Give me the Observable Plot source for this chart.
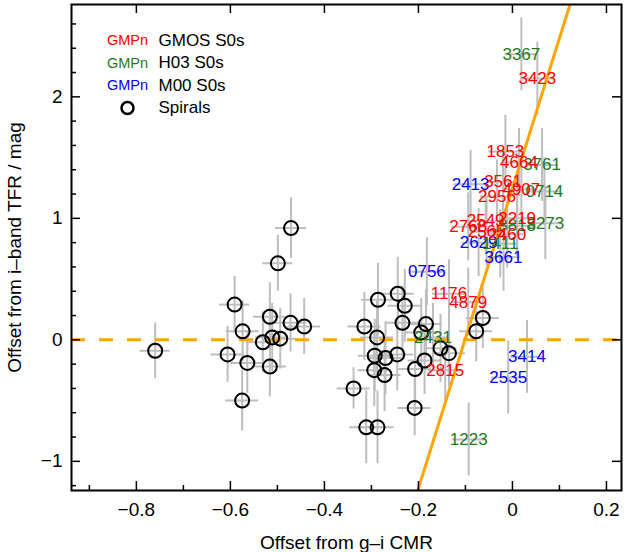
<!DOCTYPE html>
<html><head><meta charset="utf-8">
<script src="https://cdn.jsdelivr.net/npm/d3@7"></script>
<script src="https://cdn.jsdelivr.net/npm/@observablehq/plot@0.6"></script>
<style>body{margin:0;background:#fff}</style>
</head><body><div id="chart"></div>
<script>
// Spirals
const spiralX = [-0.760,-0.471,-0.499,-0.591,-0.574,-0.516,-0.472,-0.443,-0.531,-0.511,-0.494,-0.606,-0.564,-0.516,-0.575,
  -0.315,-0.286,-0.244,-0.229,-0.234,-0.184,-0.288,-0.194,-0.293,-0.270,-0.245,-0.294,-0.272,-0.207,-0.187,-0.153,-0.135,-0.338,-0.208,-0.311,-0.287,-0.063,-0.077];
const spiralY = [-0.09,0.92,0.63,0.29,0.07,0.19,0.14,0.11,-0.02,0.02,0.01,-0.12,-0.19,-0.22,-0.50,
  0.11,0.33,0.38,0.28,0.14,0.13,0.02,0.06,-0.13,-0.15,-0.12,-0.25,-0.29,-0.24,-0.17,-0.07,-0.11,-0.40,-0.56,-0.72,-0.72,0.18,0.07];
const spiralXErr = [0.032,0.033,0.032,0.032,0.035,0.035,0.035,0.035,0.035,0.035,0.035,0.035,0.035,0.035,0.035,
  0.035,0.035,0.035,0.035,0.035,0.035,0.035,0.035,0.035,0.035,0.035,0.035,0.035,0.035,0.035,0.035,0.035,0.035,0.035,0.035,0.035,0.035,0.035];
const spiralYErr = [0.23,0.25,0.23,0.23,0.25,0.28,0.24,0.23,0.25,0.28,0.25,0.23,0.25,0.25,0.25,
  0.28,0.30,0.30,0.30,0.30,0.28,0.30,0.28,0.30,0.30,0.30,0.30,0.30,0.30,0.28,0.28,0.28,0.17,0.23,0.30,0.30,0.25,0.25];

// GMOS S0s (red)
const gmosNames = ["3423","1853","4664","3561","4907","2956","2219","2549","2768","2565","2460","1176","4879","2815"];
const gmosX = [0.053,-0.015,0.014,-0.020,0.019,-0.033,0.010,-0.057,-0.094,-0.055,-0.011,-0.135,-0.094,-0.143];
const gmosY = [2.15,1.55,1.46,1.30,1.24,1.18,1.00,0.98,0.93,0.89,0.87,0.38,0.31,-0.25];
const gmosYErr = [0.30,0.30,0.28,0.28,0.28,0.30,0.28,0.28,0.28,0.28,0.28,0.28,0.28,0.25];
// H03 S0s (green)
const h03Names = ["3367","3761","0714","3818","3273","1411","2431","1223"];
const h03X = [0.019,0.063,0.068,0.010,0.070,-0.026,-0.169,-0.093];
const h03Y = [2.35,1.44,1.22,0.94,0.96,0.79,0.02,-0.82];
const h03YErr = [0.30,0.30,0.28,0.28,0.30,0.28,0.28,0.30];
// M00 S0s (blue)
const m00Names = ["2413","2629","3661","0756","3414","2535"];
const m00X = [-0.089,-0.072,-0.019,-0.182,0.031,-0.009];
const m00Y = [1.28,0.80,0.68,0.56,-0.14,-0.31];
const m00YErr = [0.28,0.28,0.28,0.28,0.30,0.30];
const s0XErr = 0.035;

// Fit line (orange): y = slope * (x - x0)
const fitSlope = 12.35, fitX0 = -0.101;
const fitEndsX = [-0.25, 0.16];

const xDomain = [-0.938, 0.232];
const yDomain = [-1.24, 2.76];
const majorX = [-0.8,-0.6,-0.4,-0.2,0,0.2];
const minorX = [-0.9,-0.7,-0.5,-0.3,-0.1,0.1];
const majorY = [-1,0,1,2];
const minorY = [-1.2,-0.8,-0.6,-0.4,-0.2,0.2,0.4,0.6,0.8,1.2,1.4,1.6,1.8,2.2,2.4,2.6];

const legendRows = [
  {tag:"GMPn", color:"#ff0000", label:"GMOS S0s"},
  {tag:"GMPn", color:"#1f7a1f", label:"H03 S0s"},
  {tag:"GMPn", color:"#0000ff", label:"M00 S0s"},
  {tag:null, color:null, label:"Spirals"}
];

const spirals = spiralX.map((x,i)=>({x, y:spiralY[i], xe:spiralXErr[i], ye:spiralYErr[i]}));
const mk = (names, xs, ys, yes) => names.map((n,i)=>({name:n, x:xs[i], y:ys[i], xe:s0XErr, ye:yes[i]}));
const gmos = mk(gmosNames, gmosX, gmosY, gmosYErr);
const h03 = mk(h03Names, h03X, h03Y, h03YErr);
const m00 = mk(m00Names, m00X, m00Y, m00YErr);
const allErr = [...spirals, ...gmos, ...h03, ...m00];
const fit = fitEndsX.map(x => ({x, y: fitSlope*(x - fitX0)}));

const W = 626, H = 552, mL = 71, mR = 5, mT = 4, mB = 62;
const FW = W - mL - mR, FH = H - mT - mB;
const fmtX = d => d === 0 ? "0" : d.toFixed(1).replace("-", "\u2212");
const fmtY = d => String(d).replace("-", "\u2212");
const grey = "#bebebe";
const rowStep = 22.5, rowTop = 36;

const plot = Plot.plot({
  width: W, height: H,
  marginLeft: mL, marginRight: mR, marginTop: mT, marginBottom: mB,
  style: {fontFamily: "'Liberation Sans', Arial, Helvetica, sans-serif", fontSize: "19px", background: "#fff", color: "#000"},
  x: {domain: xDomain},
  y: {domain: yDomain},
  marks: [
    Plot.ruleY(allErr, {y: "y", x1: d => d.x - d.xe, x2: d => d.x + d.xe, stroke: grey, strokeWidth: 2}),
    Plot.ruleX(allErr, {x: "x", y1: d => d.y - d.ye, y2: d => d.y + d.ye, stroke: grey, strokeWidth: 2}),
    Plot.ruleY([0], {stroke: "#ffa500", strokeWidth: 3, strokeDasharray: "14,14"}),
    Plot.line(fit, {x: "x", y: "y", stroke: "#ffa500", strokeWidth: 3, clip: true}),
    Plot.dot(spirals, {x: "x", y: "y", r: 7, stroke: "black", strokeWidth: 2, fill: "none"}),
    Plot.text(m00, {x: "x", y: "y", text: "name", fill: "#0000ff", fontSize: 17}),
    Plot.text(h03, {x: "x", y: "y", text: "name", fill: "#1f7a1f", fontSize: 17}),
    Plot.text(gmos, {x: "x", y: "y", text: "name", fill: "#ff0000", fontSize: 17}),
    // legend
    ...legendRows.map((r, i) => Plot.text([r], {text: "label", frameAnchor: "top-left", dx: 87, dy: rowTop + i * rowStep, fontSize: 17, textAnchor: "start", lineAnchor: "middle", fill: "black"})),
    ...legendRows.filter(r => r.tag).map((r, i) => Plot.text([r], {text: "tag", frameAnchor: "top-left", dx: 56, dy: rowTop + i * rowStep, fontSize: 14.5, textAnchor: "middle", lineAnchor: "middle", fill: r.color})),
    Plot.dot([legendRows[3]], {frameAnchor: "top-left", dx: 56, dy: rowTop + 3 * rowStep, r: 6, stroke: "black", strokeWidth: 2.5, fill: "none"}),
    // ticks (inward)
    Plot.tickX(majorX, {x: d => d, insetTop: FH - 9, stroke: "black", strokeWidth: 1.5}),
    Plot.tickX(minorX, {x: d => d, insetTop: FH - 5, stroke: "black", strokeWidth: 1.5}),
    Plot.tickX(majorX, {x: d => d, insetBottom: FH - 9, stroke: "black", strokeWidth: 1.5}),
    Plot.tickY(majorY, {y: d => d, insetRight: FW - 9, stroke: "black", strokeWidth: 1.5}),
    Plot.tickY(minorY, {y: d => d, insetRight: FW - 5, stroke: "black", strokeWidth: 1.5}),
    Plot.tickY(majorY, {y: d => d, insetLeft: FW - 9, stroke: "black", strokeWidth: 1.5}),
    Plot.frame({stroke: "black", strokeWidth: 2}),
    Plot.axisX({ticks: majorX, tickSize: 0, tickPadding: 12, tickFormat: fmtX, fontSize: 19,
      label: "Offset from g\u2013i CMR", labelAnchor: "center", labelOffset: 58, labelArrow: "none"}),
    Plot.axisY({ticks: majorY, tickSize: 0, tickPadding: 9, tickFormat: fmtY, fontSize: 19,
      label: "Offset from i\u2013band TFR / mag", labelAnchor: "center", labelOffset: 64, labelArrow: "none"})
  ]
});
document.getElementById("chart").appendChild(plot);
</script></body></html>
